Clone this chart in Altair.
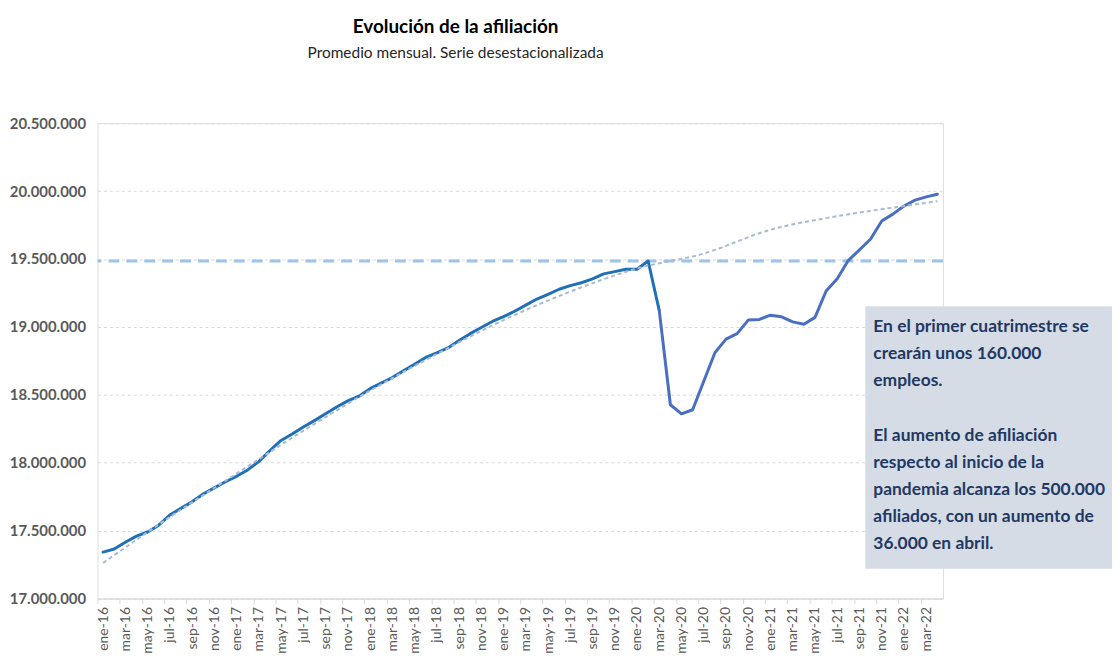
import altair as alt
import pandas as pd

# ---------------- data ----------------
MESES = ["ene", "feb", "mar", "abr", "may", "jun", "jul", "ago", "sep", "oct", "nov", "dic"]
meses = [f"{m}-{a}" for a in range(16, 23) for m in MESES][:76]   # ene-16 ... abr-22

afiliados = [
    17342000, 17365000, 17415000, 17460000, 17490000, 17540000, 17615000, 17664000,
    17712000, 17770000, 17815000, 17860000,                                   # 2016
    17900000, 17947000, 18008000, 18090000, 18164000, 18212000, 18263000, 18310000,
    18360000, 18410000, 18455000, 18490000,                                   # 2017
    18545000, 18586000, 18627000, 18676000, 18725000, 18775000, 18808000, 18845000,
    18900000, 18950000, 18995000, 19040000,                                   # 2018
    19075000, 19115000, 19160000, 19205000, 19240000, 19277000, 19304000, 19325000,
    19353000, 19390000, 19407000, 19424000,                                   # 2019
    19424000, 19485000, 19120000, 18427000, 18360000, 18390000, 18600000, 18810000,
    18910000, 18950000, 19050000, 19055000,                                   # 2020
    19086000, 19074000, 19037000, 19020000, 19070000, 19264000, 19355000, 19490000,
    19567000, 19647000, 19780000, 19830000,                                   # 2021
    19890000, 19933000, 19957000, 19977000,                                   # 2022
]

tendencia_meses = ["ene-16", "jul-16", "ene-17", "jul-17", "ene-18", "jul-18", "ene-19",
                   "jul-19", "ene-20", "jul-20", "ene-21", "jul-21", "ene-22", "abr-22"]
tendencia_vals = [17262000, 17600000, 17920000, 18235000, 18530000, 18800000, 19050000,
                  19260000, 19430000, 19540000, 19715000, 19815000, 19890000, 19925000]

nivel_prepandemia = 19485000
y_ticks = [17000000, 17500000, 18000000, 18500000, 19000000, 19500000, 20000000, 20500000]
x_labels = meses[::2]

texto_parrafo1 = [
    "En el primer cuatrimestre se",
    "crearán unos 160.000",
    "empleos.",
]
texto_parrafo2 = [
    "El aumento de afiliación",
    "respecto al inicio de la",
    "pandemia alcanza los 500.000",
    "afiliados, con un aumento de",
    "36.000 en abril.",
]

# ---------------- tables ----------------
idx_corte = meses.index("mar-20")
filas = []
for i, (m, v) in enumerate(zip(meses, afiliados)):
    if i <= idx_corte:
        filas.append({"mes": m, "valor": v, "tramo": "pre"})
    if i >= idx_corte:
        filas.append({"mes": m, "valor": v, "tramo": "post"})
df = pd.DataFrame(filas)
df_trend = pd.DataFrame({"mes": tendencia_meses, "valor": tendencia_vals})
df_one = pd.DataFrame({"k": [0]})

W, H = 850, 478
FONT = "Lato"

x_enc = alt.X(
    "mes:O",
    scale=alt.Scale(type="point", domain=meses, padding=0.5),
    axis=alt.Axis(
        values=x_labels, labelAngle=-90, title=None,
        labelFont=FONT, labelFontSize=14, labelColor="#595959", labelPadding=3,
        domainColor="#d9d9d9", tickColor="#d9d9d9", tickSize=5,
        tickOffset=-5.6, labelOffset=5.6, grid=False,
    ),
)
y_scale = alt.Scale(domain=[17000000, 20500000], nice=False, zero=False)
y_axis = alt.Axis(
    values=y_ticks, title=None, domain=False, ticks=False, tickSize=0,
    labelFont=FONT, labelFontSize=15, labelFontWeight="bold", labelColor="#595959",
    labelPadding=12,
    labelExpr="replace(format(datum.value, ','), regexp(',', 'g'), '.')",
    grid=True, gridColor="#d9d9d9", gridDash=[3, 3], gridWidth=1,
)

base_line = alt.Chart(df).mark_line(strokeWidth=3, strokeJoin="round", strokeCap="round").encode(
    x=x_enc,
    y=alt.Y("valor:Q", scale=y_scale, axis=y_axis),
    color=alt.Color("tramo:N", scale=alt.Scale(domain=["pre", "post"], range=["#2070b8", "#4a6fc2"]),
                    legend=None),
)

rule = alt.Chart(df_one).mark_rule(color="#9dc3e6", strokeWidth=3, strokeDash=[11, 7]).encode(
    y=alt.datum(nivel_prepandemia)
)

trend = alt.Chart(df_trend).mark_line(
    strokeWidth=2, strokeDash=[4, 3], color="#a8b9d6", interpolate="monotone"
).encode(x="mes:O", y="valor:Q")

caja = alt.Chart(df_one).mark_rect(color="#d6dce5").encode(
    x=alt.value(772), x2=alt.value(1025), y=alt.value(184), y2=alt.value(448)
)

estilo_texto = dict(align="left", baseline="alphabetic", lineHeight=27,
                    font=FONT, fontSize=17.5, fontWeight="bold", color="#1f3864")
texto1 = alt.Chart(df_one).mark_text(text=texto_parrafo1, **estilo_texto).encode(
    x=alt.value(780), y=alt.value(210)
)
texto2 = alt.Chart(df_one).mark_text(text=texto_parrafo2, **estilo_texto).encode(
    x=alt.value(780), y=alt.value(320)
)

chart = alt.layer(rule, base_line, trend, caja, texto1, texto2).properties(
    width=W, height=H,
    autosize=alt.AutoSizeParams(type="none"),
    padding={"left": 90, "top": 114, "right": 170, "bottom": 57},
    title=alt.TitleParams(
        text="Evolución de la afiliación",
        subtitle="Promedio mensual. Serie desestacionalizada",
        anchor="middle", dx=-65, offset=55,
        font=FONT, fontSize=19, fontWeight="bold", color="#000000",
        subtitleFont=FONT, subtitleFontSize=15.5, subtitleColor="#262626", subtitlePadding=9,
    ),
).configure_view(stroke=None).configure(background="white")

chart.save("out.html", embed_options={"renderer": "svg", "actions": False})
